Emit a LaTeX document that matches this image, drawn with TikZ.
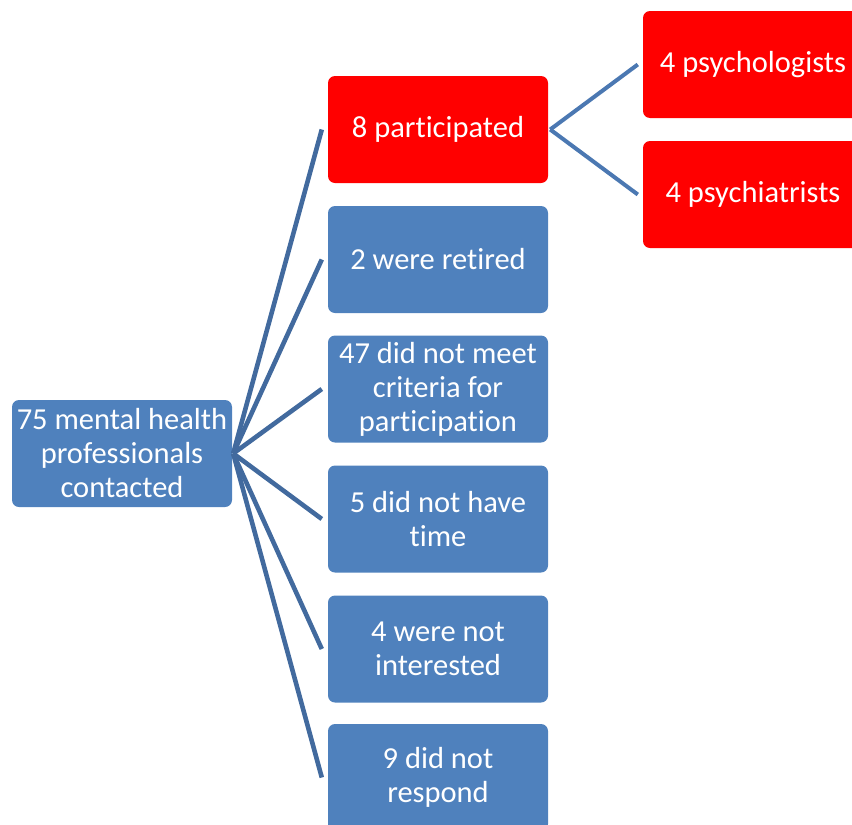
\documentclass[tikz,border=0pt]{standalone}
\usepackage{fontspec}
\setmainfont[Ligatures=NoCommon]{Carlito}
\definecolor{boxblue}{RGB}{79,129,189}
\definecolor{boxred}{RGB}{255,0,0}
\definecolor{lineblue}{RGB}{66,106,158}
\definecolor{lineblue2}{RGB}{75,120,178}
\begin{document}
\begin{tikzpicture}[x=1pt,y=-1pt,
  box/.style={rounded corners=7pt, minimum width=220pt, minimum height=107pt,
    inner sep=0pt, align=center, text=white,
    font=\fontsize{30.5}{34}\selectfont},
  bluebox/.style={box, fill=boxblue},
  redbox/.style={box, fill=boxred},
  conn/.style={draw=lineblue, line width=4.6pt},
  conn2/.style={draw=lineblue2, line width=4pt}]
\useasboundingbox (0,0) rectangle (852,825);
\clip (0,0) rectangle (852,825);
\node[bluebox] (root) at (122,453.5) {75 mental health\\professionals\\contacted};
\node[redbox] (p8) at (438,129.5) {8 participated};
\node[bluebox] (r2) at (438,259.5) {2 were retired};
\node[bluebox] (m47) at (438,389) {47 did not meet\\criteria for\\participation};
\node[bluebox] (t5) at (438,519) {5 did not have\\time};
\node[bluebox] (n4) at (438,649) {4 were not\\interested};
\node[bluebox] (r9) at (438,777.5) {9 did not\\respond};
\node[redbox] (psy) at (753,64.5) {4 psychologists};
\node[redbox] (psc) at (753,194.5) {4 psychiatrists};
\foreach \t in {p8,r2,m47,t5,n4,r9}
  \draw[conn] ([xshift=1pt]root.east) -- ([xshift=-6pt]\t.west);
\draw[conn2] ([xshift=2pt]p8.east) -- ([xshift=-5pt]psy.west);
\draw[conn2] ([xshift=2pt]p8.east) -- ([xshift=-5pt]psc.west);
\end{tikzpicture}
\end{document}
